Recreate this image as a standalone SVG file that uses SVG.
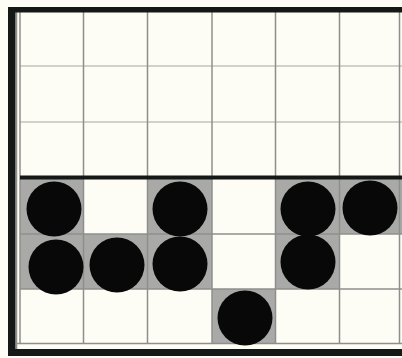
<svg xmlns="http://www.w3.org/2000/svg" width="402" height="358" viewBox="0 0 402 358">
<defs>
<style>
.cell{fill:#a9a9a7}
.grid{stroke:#8e8e8c;stroke-width:1.5;fill:none}
.faint{stroke:#c4c4c0;stroke-width:1.5;fill:none}
.frame{fill:#141816}
.disc{fill:#080808}
</style>
</defs>
<rect x="0" y="0" width="402" height="358" fill="#fdfcf5"/>
<g id="shaded-cells">
<rect class="cell" x="20" y="178" width="63.5" height="56"/>
<rect class="cell" x="147.5" y="178" width="64.5" height="56"/>
<rect class="cell" x="275.5" y="178" width="64" height="56"/>
<rect class="cell" x="339.5" y="178" width="62.5" height="56"/>
<rect class="cell" x="20" y="234" width="63.5" height="55"/>
<rect class="cell" x="83.5" y="234" width="64" height="55"/>
<rect class="cell" x="147.5" y="234" width="64.5" height="55"/>
<rect class="cell" x="275.5" y="234" width="64" height="55"/>
<rect class="cell" x="212" y="289" width="63.5" height="54"/>
</g>
<g id="grid">
<path class="faint" d="M20 66H402M20 122H402"/>
<path class="grid" d="M20 12V343M83.5 12V343M147.5 12V343M212 12V343M275.5 12V343M339.5 12V343M399.5 12V343"/>
<path class="grid" d="M20 234H402M20 289H402M16 343.5H402"/>
<path class="grid" d="M16.5 12V349" stroke-width="1"/>
</g>
<g id="frame">
<rect class="frame" x="8" y="7" width="7.5" height="349"/>
<rect class="frame" x="8" y="7" width="394" height="5.5"/>
<rect class="frame" x="8" y="349" width="394" height="7"/>
<rect class="frame" x="20" y="175.5" width="382" height="4"/>
</g>
<g id="discs">
<circle class="disc" cx="54" cy="209" r="27.5"/>
<circle class="disc" cx="180" cy="209" r="27.5"/>
<circle class="disc" cx="308" cy="209" r="27.5"/>
<circle class="disc" cx="370" cy="208" r="27.5"/>
<circle class="disc" cx="56" cy="267" r="27.5"/>
<circle class="disc" cx="117" cy="265" r="27.5"/>
<circle class="disc" cx="180" cy="264" r="27.5"/>
<circle class="disc" cx="308" cy="262" r="27.5"/>
<circle class="disc" cx="245" cy="318" r="27.5"/>
</g>
</svg>
